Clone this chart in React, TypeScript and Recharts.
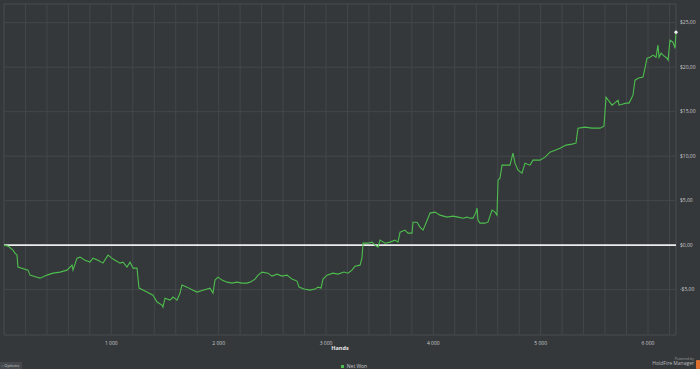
import {
  LineChart,
  Line,
  XAxis,
  YAxis,
  CartesianGrid,
  ReferenceLine,
  ReferenceArea,
  Legend,
} from "recharts";

const hands = [
  0, 37, 84, 102, 121, 130, 224, 242, 307, 335, 401, 457, 522, 587, 634, 643, 680, 708, 755, 801,
  829, 876, 922, 969, 1016, 1081, 1109, 1146, 1174, 1202, 1239, 1258, 1332, 1388, 1426, 1472, 1481,
  1500, 1547, 1575, 1612, 1640, 1658, 1705, 1761, 1798, 1854, 1919, 1947, 1966, 1994, 2031, 2078,
  2124, 2171, 2217, 2264, 2292, 2339, 2367, 2404, 2460, 2497, 2544, 2590, 2637, 2683, 2730, 2749,
  2795, 2851, 2898, 2926, 2954, 2972, 3009, 3065, 3112, 3168, 3205, 3242, 3270, 3317, 3335, 3345,
  3391, 3429, 3457, 3485, 3503, 3550, 3596, 3643, 3671, 3690, 3736, 3764, 3801, 3811, 3848, 3876,
  3904, 3950, 3969, 4016, 4062, 4127, 4183, 4230, 4277, 4314, 4342, 4370, 4398, 4407, 4416, 4435,
  4481, 4509, 4547, 4575, 4593, 4603, 4621, 4640, 4686, 4714, 4742, 4761, 4789, 4826, 4854, 4901,
  4929, 4994, 5041, 5087, 5134, 5180, 5236, 5292, 5329, 5348, 5413, 5478, 5553, 5590, 5609, 5665,
  5721, 5730, 5795, 5823, 5851, 5860, 5879, 5907, 5954, 5972, 5991, 6019, 6047, 6075, 6093, 6103,
  6122, 6140, 6177, 6187, 6205, 6233, 6252, 6261,
];

const netWon = [
  0, -0.11, -0.56, -0.9, -1.12, -2.47, -2.81, -3.37, -3.6, -3.71, -3.37, -3.15, -3.03, -2.81, -2.25,
  -2.81, -1.46, -1.35, -1.69, -1.91, -1.46, -1.69, -2.02, -1.12, -1.57, -2.02, -1.91, -2.47, -1.91,
  -2.58, -2.58, -4.83, -5.28, -5.62, -6.4, -6.74, -6.97, -5.96, -6.18, -5.84, -6.18, -5.39, -4.49,
  -4.72, -5.06, -5.28, -5.06, -4.83, -5.39, -3.93, -3.6, -3.93, -4.16, -4.27, -4.16, -4.27, -4.27,
  -4.16, -3.82, -3.37, -3.03, -3.15, -3.48, -3.26, -3.48, -3.37, -3.82, -4.04, -4.72, -4.94, -5.06,
  -4.94, -4.72, -4.83, -3.82, -3.37, -3.15, -3.26, -3.03, -3.15, -2.81, -2.36, -2.25, -1.46, 0.22,
  0.22, 0.34, 0, -0.22, 0.56, 0.22, 0.34, 0.56, 0.34, 1.46, 1.69, 1.35, 1.35, 2.58, 2.58, 2.02,
  1.69, 3.03, 3.6, 3.71, 3.37, 3.15, 3.26, 3.15, 3.03, 3.15, 3.03, 3.03, 3.71, 4.16, 2.81, 2.47,
  2.47, 2.58, 3.93, 3.71, 3.37, 7.3, 7.53, 8.99, 8.99, 8.99, 10.34, 9.21, 8.43, 8.09, 9.21, 8.99,
  9.55, 9.55, 9.89, 10.45, 10.67, 10.9, 11.24, 11.35, 11.46, 13.15, 13.26, 13.15, 13.15, 13.37,
  16.63, 15.73, 16.29, 15.73, 15.96, 15.96, 16.63, 16.85, 18.54, 18.76, 18.88, 19.89, 21.01, 21.12,
  21.35, 21.12, 22.47, 21.12, 21.57, 21.35, 21.01, 20.79, 23.03, 22.81, 22.13, 23.93,
];

const xTicks = [
  0, 200, 400, 600, 800, 1000, 1200, 1400, 1600, 1800, 2000, 2200, 2400, 2600, 2800, 3000, 3200,
  3400, 3600, 3800, 4000, 4200, 4400, 4600, 4800, 5000, 5200, 5400, 5600, 5800, 6000, 6200,
];
const yTicks = [-5, 0, 5, 10, 15, 20, 25];

const data = hands.map((hand, i) => ({ hand, "Net Won": netWon[i] }));

const BG = "#35383b";
const GRID = "#43474b";
const TEXT = "#c9cbcd";
const FONT = "'Open Sans', 'DejaVu Sans', sans-serif";

const fmtHands = (v: number) =>
  v > 0 && v % 1000 === 0 ? `${Math.floor(v / 1000)} ${String(v % 1000).padStart(3, "0")}` : "";

const fmtMoney = (v: number) => `${v < 0 ? "-" : ""}$${Math.abs(v).toFixed(2).replace(".", ",")}`;

const EndDot = (props: any) => {
  const { cx, cy, index } = props;
  if (index !== data.length - 1) return null;
  return <circle key="end" cx={cx} cy={cy} r={1.6} fill="#f0f0f0" />;
};

const LegendContent = () => (
  <div
    style={{
      display: "flex",
      justifyContent: "center",
      alignItems: "center",
      fontSize: 5,
      color: TEXT,
      fontFamily: FONT,
      paddingLeft: 4,
      paddingTop: 4,
    }}
  >
    <span style={{ width: 3, height: 3, background: "#4dbd4d", marginRight: 3 }} />
    Net Won
  </div>
);

export default function App() {
  return (
    <div
      style={{
        position: "fixed",
        left: 0,
        top: 0,
        width: 700,
        height: 369,
        background: BG,
        fontFamily: FONT,
        overflow: "hidden",
      }}
    >
      <LineChart width={700} height={369} data={data} margin={{ top: 4, right: 0, left: 4, bottom: 0 }}>
        <CartesianGrid stroke={GRID} strokeWidth={1} />
        <ReferenceArea
          x1={0}
          x2={6261}
          y1={-10.1}
          y2={27.1}
          fill="none"
          stroke={GRID}
          strokeWidth={1}
          ifOverflow="visible"
        />
        <XAxis
          type="number"
          dataKey="hand"
          domain={[0, 6261]}
          ticks={xTicks}
          interval={0}
          tickFormatter={fmtHands}
          axisLine={false}
          tickLine={false}
          tickSize={0}
          tickMargin={6}
          height={24}
          tick={{ fill: TEXT, fontSize: 5, fontFamily: FONT }}
          label={{
            value: "Hands",
            position: "insideBottom",
            offset: 9,
            fill: "#e6e6e6",
            fontSize: 5.5,
            fontWeight: 700,
            fontFamily: FONT,
          }}
        />
        <YAxis
          orientation="right"
          type="number"
          domain={[-10.1, 27.1]}
          ticks={yTicks}
          interval={0}
          tickFormatter={fmtMoney}
          axisLine={false}
          tickLine={false}
          tickSize={0}
          tickMargin={4}
          width={24}
          tick={{ fill: TEXT, fontSize: 5, fontFamily: FONT, textAnchor: "start" }}
        />
        <ReferenceLine y={0} stroke="#ececec" strokeWidth={1.6} />
        <Legend verticalAlign="bottom" height={10} content={<LegendContent />} />
        <Line
          type="linear"
          dataKey="Net Won"
          stroke="#4dbd4d"
          strokeWidth={1.1}
          dot={<EndDot />}
          activeDot={false}
          isAnimationActive={false}
        />
      </LineChart>
      <div
        style={{
          position: "absolute",
          left: 0,
          top: 362,
          width: 22,
          height: 7,
          background: "#44484c",
          color: TEXT,
          fontSize: 4,
          lineHeight: "7px",
          paddingLeft: 1,
          boxSizing: "border-box",
        }}
      >
        + Options
      </div>
      <div
        style={{
          position: "absolute",
          right: 6,
          top: 357,
          textAlign: "right",
          color: "#b8babc",
          lineHeight: 1.1,
        }}
      >
        <div style={{ fontSize: 3.5, color: "#9a9c9e" }}>Powered by</div>
        <div style={{ fontSize: 5 }}>HoldFire Manager</div>
      </div>
      <div
        style={{
          position: "absolute",
          right: 0,
          top: 360,
          width: 4,
          height: 9,
          background: "#e07030",
          borderRadius: 1,
        }}
      />
    </div>
  );
}
